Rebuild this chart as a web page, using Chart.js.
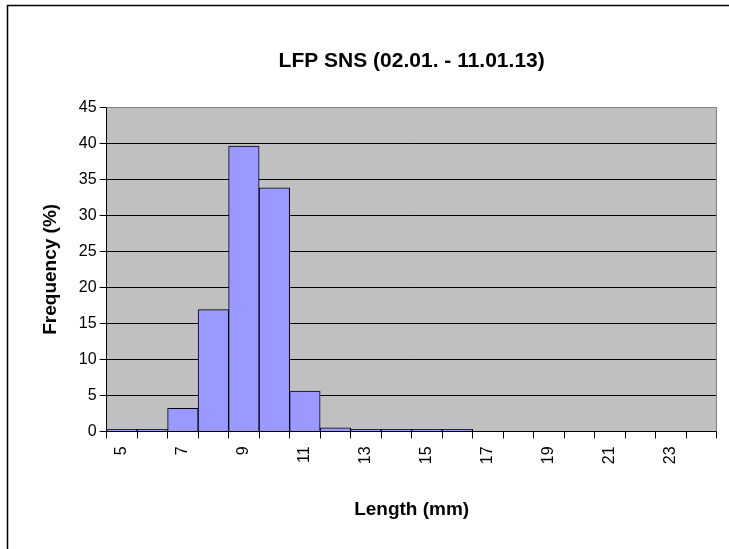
<!DOCTYPE html>
<html>
<head>
<meta charset="utf-8">
<script src="https://cdn.jsdelivr.net/npm/chart.js@4"></script>
<style>
  html, body { margin: 0; padding: 0; background: #ffffff; }
  #wrap { width: 729px; height: 549px; position: relative; }
</style>
</head>
<body>
<div id="wrap"><canvas id="c" width="729" height="549"></canvas></div>
<script>
const lengthCategories = ['5','6','7','8','9','10','11','12','13','14','15','16','17','18','19','20','21','22','23','24'];
const frequencyValues = [0.3, 0.3, 3.2, 16.9, 39.6, 33.8, 5.6, 0.5, 0.3, 0.3, 0.3, 0.3, 0, 0, 0, 0, 0, 0, 0, 0];
const yTicks = { min: 0, max: 45, step: 5 };
const chartTitle = 'LFP SNS (02.01. - 11.01.13)';
const xAxisTitle = 'Length (mm)';
const yAxisTitle = 'Frequency (%)';

const FONT = "'Liberation Sans', Arial, sans-serif";

const framePlugin = {
  id: 'frame',
  beforeDraw(chart) {
    const { ctx, chartArea: a } = chart;
    ctx.save();
    ctx.fillStyle = '#ffffff';
    ctx.fillRect(0, 0, chart.width, chart.height);
    ctx.fillStyle = '#C0C0C0';
    ctx.fillRect(a.left, a.top, a.right - a.left, a.bottom - a.top);
    ctx.strokeStyle = '#000000';
    ctx.lineWidth = 1.5;
    ctx.beginPath();
    ctx.moveTo(7.5, chart.height);
    ctx.lineTo(7.5, 5.5);
    ctx.lineTo(chart.width, 5.5);
    ctx.stroke();
    ctx.restore();
  },
  beforeDatasetsDraw(chart) {
    const { ctx, chartArea: a } = chart;
    ctx.save();
    ctx.strokeStyle = '#808080';
    ctx.lineWidth = 1;
    ctx.beginPath();
    ctx.moveTo(a.left, Math.round(a.top) + 0.5);
    ctx.lineTo(Math.round(a.right) - 0.5, Math.round(a.top) + 0.5);
    ctx.lineTo(Math.round(a.right) - 0.5, a.bottom);
    ctx.stroke();
    ctx.restore();
  }
};

new Chart(document.getElementById('c'), {
  type: 'bar',
  data: {
    labels: lengthCategories,
    datasets: [{
      data: frequencyValues,
      backgroundColor: '#9999FF',
      borderColor: '#000000',
      borderWidth: 1,
      barPercentage: 1,
      categoryPercentage: 1
    }]
  },
  options: {
    responsive: false,
    animation: false,
    devicePixelRatio: 1,
    layout: { padding: { left: 39, right: 12, top: 0, bottom: 0 } },
    plugins: {
      legend: { display: false },
      tooltip: { enabled: false },
      title: {
        display: true,
        text: chartTitle,
        fullSize: false,
        color: '#000000',
        font: { family: FONT, size: 21, weight: 'bold' },
        padding: { top: 49, bottom: 33 }
      }
    },
    scales: {
      x: {
        offset: true,
        grid: {
          offset: true,
          drawOnChartArea: false,
          drawTicks: true,
          tickLength: 7,
          color: '#000000'
        },
        border: { color: '#000000', width: 1 },
        ticks: {
          autoSkip: false,
          minRotation: 90,
          maxRotation: 90,
          padding: 8,
          color: '#000000',
          font: { family: FONT, size: 16 },
          callback: function (value, index) {
            return index % 2 === 0 ? lengthCategories[index] : '';
          }
        },
        title: {
          display: true,
          text: xAxisTitle,
          color: '#000000',
          font: { family: FONT, size: 19, weight: 'bold' },
          padding: { top: 26, bottom: 28 }
        }
      },
      y: {
        min: yTicks.min,
        max: yTicks.max,
        ticks: {
          stepSize: yTicks.step,
          padding: 3,
          color: '#000000',
          font: { family: FONT, size: 16 }
        },
        grid: {
          color: (ctx) => (ctx.tick && ctx.tick.value === yTicks.max) ? '#808080' : '#000000',
          tickColor: '#000000',
          tickLength: 7,
          lineWidth: 1
        },
        border: { color: '#000000', width: 1 },
        title: {
          display: true,
          text: yAxisTitle,
          color: '#000000',
          font: { family: FONT, size: 19, weight: 'bold' },
          padding: { top: 0, bottom: 14 }
        }
      }
    }
  },
  plugins: [framePlugin]
});
</script>
</body>
</html>
